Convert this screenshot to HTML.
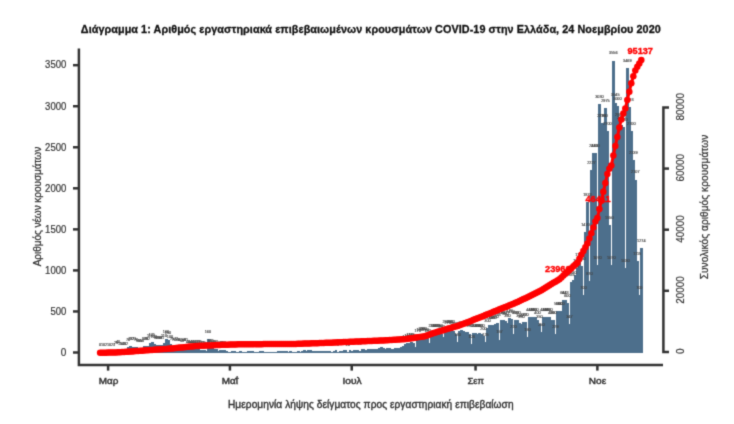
<!DOCTYPE html>
<html><head><meta charset="utf-8"><title>Διάγραμμα 1</title>
<style>html,body{margin:0;padding:0;background:#fff;width:734px;height:424px;overflow:hidden}svg{display:block}</style>
</head><body><svg width="734" height="424" viewBox="0 0 734 424"><defs><filter id="soft" x="0" y="0" width="734" height="424" filterUnits="userSpaceOnUse" color-interpolation-filters="sRGB"><feConvolveMatrix order="3" kernelMatrix="0.025 0.1 0.025 0.1 0.5 0.1 0.025 0.1 0.025" edgeMode="duplicate"/></filter></defs><g filter="url(#soft)"><rect width="734" height="424" fill="#fff"/><g fill="#4d6f8c" shape-rendering="crispEdges"><rect x="100.91" y="352.42" width="2.9" height="0.08"/><rect x="104.90" y="352.34" width="2.9" height="0.16"/><rect x="106.90" y="352.42" width="2.9" height="0.08"/><rect x="110.89" y="352.34" width="2.9" height="0.16"/><rect x="112.89" y="352.25" width="2.9" height="0.25"/><rect x="114.89" y="350.45" width="2.9" height="2.05"/><rect x="116.88" y="349.22" width="2.9" height="3.28"/><rect x="118.88" y="351.27" width="2.9" height="1.23"/><rect x="120.88" y="351.35" width="2.9" height="1.15"/><rect x="122.88" y="351.19" width="2.9" height="1.31"/><rect x="124.87" y="351.51" width="2.9" height="0.99"/><rect x="126.87" y="346.75" width="2.9" height="5.75"/><rect x="128.87" y="346.34" width="2.9" height="6.16"/><rect x="130.86" y="346.59" width="2.9" height="5.91"/><rect x="132.86" y="346.51" width="2.9" height="5.99"/><rect x="134.86" y="346.75" width="2.9" height="5.75"/><rect x="136.86" y="347.74" width="2.9" height="4.76"/><rect x="138.85" y="347.99" width="2.9" height="4.51"/><rect x="140.85" y="347.90" width="2.9" height="4.60"/><rect x="142.85" y="345.93" width="2.9" height="6.57"/><rect x="144.84" y="346.10" width="2.9" height="6.40"/><rect x="146.84" y="345.77" width="2.9" height="6.73"/><rect x="148.84" y="343.06" width="2.9" height="9.44"/><rect x="150.83" y="342.24" width="2.9" height="10.26"/><rect x="152.83" y="344.29" width="2.9" height="8.21"/><rect x="154.83" y="344.95" width="2.9" height="7.55"/><rect x="156.83" y="345.28" width="2.9" height="7.22"/><rect x="158.82" y="345.11" width="2.9" height="7.39"/><rect x="160.82" y="345.03" width="2.9" height="7.47"/><rect x="162.82" y="343.47" width="2.9" height="9.03"/><rect x="164.81" y="339.37" width="2.9" height="13.13"/><rect x="166.81" y="340.19" width="2.9" height="12.31"/><rect x="168.81" y="344.29" width="2.9" height="8.21"/><rect x="170.80" y="346.34" width="2.9" height="6.16"/><rect x="172.80" y="346.75" width="2.9" height="5.75"/><rect x="174.80" y="346.59" width="2.9" height="5.91"/><rect x="176.80" y="347.57" width="2.9" height="4.93"/><rect x="178.79" y="347.41" width="2.9" height="5.09"/><rect x="180.79" y="347.74" width="2.9" height="4.76"/><rect x="182.79" y="347.57" width="2.9" height="4.93"/><rect x="184.78" y="347.49" width="2.9" height="5.01"/><rect x="186.78" y="348.81" width="2.9" height="3.69"/><rect x="188.78" y="348.89" width="2.9" height="3.61"/><rect x="190.77" y="348.72" width="2.9" height="3.78"/><rect x="192.77" y="348.81" width="2.9" height="3.69"/><rect x="194.77" y="349.22" width="2.9" height="3.28"/><rect x="196.77" y="349.38" width="2.9" height="3.12"/><rect x="198.76" y="349.63" width="2.9" height="2.87"/><rect x="200.76" y="350.04" width="2.9" height="2.46"/><rect x="202.76" y="350.45" width="2.9" height="2.05"/><rect x="204.75" y="350.69" width="2.9" height="1.81"/><rect x="206.75" y="339.37" width="2.9" height="13.13"/><rect x="208.75" y="348.40" width="2.9" height="4.10"/><rect x="210.74" y="347.99" width="2.9" height="4.51"/><rect x="212.74" y="348.81" width="2.9" height="3.69"/><rect x="214.74" y="349.22" width="2.9" height="3.28"/><rect x="216.74" y="350.86" width="2.9" height="1.64"/><rect x="218.73" y="350.04" width="2.9" height="2.46"/><rect x="220.73" y="350.45" width="2.9" height="2.05"/><rect x="222.73" y="350.20" width="2.9" height="2.30"/><rect x="224.72" y="350.86" width="2.9" height="1.64"/><rect x="226.72" y="351.68" width="2.9" height="0.82"/><rect x="228.72" y="351.93" width="2.9" height="0.57"/><rect x="230.71" y="351.35" width="2.9" height="1.15"/><rect x="232.71" y="351.02" width="2.9" height="1.48"/><rect x="234.71" y="352.09" width="2.9" height="0.41"/><rect x="236.71" y="352.25" width="2.9" height="0.25"/><rect x="238.70" y="351.02" width="2.9" height="1.48"/><rect x="240.70" y="351.60" width="2.9" height="0.90"/><rect x="242.70" y="351.68" width="2.9" height="0.82"/><rect x="244.69" y="351.76" width="2.9" height="0.74"/><rect x="246.69" y="351.02" width="2.9" height="1.48"/><rect x="248.69" y="351.02" width="2.9" height="1.48"/><rect x="250.68" y="351.27" width="2.9" height="1.23"/><rect x="252.68" y="351.93" width="2.9" height="0.57"/><rect x="254.68" y="351.68" width="2.9" height="0.82"/><rect x="256.68" y="351.93" width="2.9" height="0.57"/><rect x="258.67" y="350.94" width="2.9" height="1.56"/><rect x="260.67" y="351.27" width="2.9" height="1.23"/><rect x="262.67" y="352.25" width="2.9" height="0.25"/><rect x="264.66" y="352.09" width="2.9" height="0.41"/><rect x="266.66" y="351.84" width="2.9" height="0.66"/><rect x="268.66" y="352.17" width="2.9" height="0.33"/><rect x="270.65" y="351.51" width="2.9" height="0.99"/><rect x="272.65" y="352.25" width="2.9" height="0.25"/><rect x="274.65" y="351.60" width="2.9" height="0.90"/><rect x="276.65" y="351.02" width="2.9" height="1.48"/><rect x="278.64" y="351.27" width="2.9" height="1.23"/><rect x="280.64" y="351.19" width="2.9" height="1.31"/><rect x="282.64" y="351.27" width="2.9" height="1.23"/><rect x="284.63" y="351.10" width="2.9" height="1.40"/><rect x="286.63" y="351.93" width="2.9" height="0.57"/><rect x="288.63" y="351.35" width="2.9" height="1.15"/><rect x="290.62" y="351.84" width="2.9" height="0.66"/><rect x="292.62" y="352.01" width="2.9" height="0.49"/><rect x="294.62" y="351.76" width="2.9" height="0.74"/><rect x="296.62" y="350.86" width="2.9" height="1.64"/><rect x="298.61" y="351.60" width="2.9" height="0.90"/><rect x="300.61" y="351.43" width="2.9" height="1.07"/><rect x="302.61" y="350.37" width="2.9" height="2.13"/><rect x="304.60" y="351.02" width="2.9" height="1.48"/><rect x="306.60" y="350.12" width="2.9" height="2.38"/><rect x="308.60" y="350.45" width="2.9" height="2.05"/><rect x="310.59" y="351.35" width="2.9" height="1.15"/><rect x="312.59" y="351.02" width="2.9" height="1.48"/><rect x="314.59" y="350.78" width="2.9" height="1.72"/><rect x="316.58" y="351.10" width="2.9" height="1.40"/><rect x="318.58" y="350.61" width="2.9" height="1.89"/><rect x="320.58" y="351.19" width="2.9" height="1.31"/><rect x="322.58" y="350.69" width="2.9" height="1.81"/><rect x="324.57" y="350.61" width="2.9" height="1.89"/><rect x="326.57" y="351.02" width="2.9" height="1.48"/><rect x="328.57" y="350.61" width="2.9" height="1.89"/><rect x="330.56" y="351.51" width="2.9" height="0.99"/><rect x="332.56" y="351.27" width="2.9" height="1.23"/><rect x="334.56" y="350.37" width="2.9" height="2.13"/><rect x="336.56" y="352.09" width="2.9" height="0.41"/><rect x="338.55" y="351.43" width="2.9" height="1.07"/><rect x="340.55" y="350.53" width="2.9" height="1.97"/><rect x="342.55" y="350.37" width="2.9" height="2.13"/><rect x="344.54" y="350.28" width="2.9" height="2.22"/><rect x="346.54" y="351.68" width="2.9" height="0.82"/><rect x="348.54" y="350.28" width="2.9" height="2.22"/><rect x="350.53" y="350.86" width="2.9" height="1.64"/><rect x="352.53" y="350.12" width="2.9" height="2.38"/><rect x="354.53" y="349.87" width="2.9" height="2.63"/><rect x="356.53" y="349.71" width="2.9" height="2.79"/><rect x="358.52" y="350.78" width="2.9" height="1.72"/><rect x="360.52" y="349.05" width="2.9" height="3.45"/><rect x="362.52" y="349.05" width="2.9" height="3.45"/><rect x="364.51" y="350.04" width="2.9" height="2.46"/><rect x="366.51" y="348.72" width="2.9" height="3.78"/><rect x="368.51" y="348.64" width="2.9" height="3.86"/><rect x="370.50" y="349.30" width="2.9" height="3.20"/><rect x="372.50" y="349.05" width="2.9" height="3.45"/><rect x="374.50" y="349.38" width="2.9" height="3.12"/><rect x="376.50" y="349.30" width="2.9" height="3.20"/><rect x="378.49" y="348.07" width="2.9" height="4.43"/><rect x="380.49" y="347.49" width="2.9" height="5.01"/><rect x="382.49" y="347.74" width="2.9" height="4.76"/><rect x="384.48" y="348.64" width="2.9" height="3.86"/><rect x="386.48" y="347.66" width="2.9" height="4.84"/><rect x="388.48" y="348.23" width="2.9" height="4.27"/><rect x="390.47" y="349.22" width="2.9" height="3.28"/><rect x="392.47" y="348.81" width="2.9" height="3.69"/><rect x="394.47" y="348.40" width="2.9" height="4.10"/><rect x="396.46" y="347.99" width="2.9" height="4.51"/><rect x="398.46" y="347.57" width="2.9" height="4.93"/><rect x="400.46" y="346.75" width="2.9" height="5.75"/><rect x="402.46" y="345.52" width="2.9" height="6.98"/><rect x="404.45" y="344.29" width="2.9" height="8.21"/><rect x="406.45" y="343.47" width="2.9" height="9.03"/><rect x="408.45" y="342.65" width="2.9" height="9.85"/><rect x="410.44" y="342.24" width="2.9" height="10.26"/><rect x="412.44" y="343.06" width="2.9" height="9.44"/><rect x="414.44" y="347.16" width="2.9" height="5.34"/><rect x="416.44" y="338.54" width="2.9" height="13.96"/><rect x="418.43" y="336.90" width="2.9" height="15.60"/><rect x="420.43" y="336.08" width="2.9" height="16.42"/><rect x="422.43" y="336.08" width="2.9" height="16.42"/><rect x="424.42" y="336.90" width="2.9" height="15.60"/><rect x="426.42" y="337.72" width="2.9" height="14.78"/><rect x="428.42" y="343.47" width="2.9" height="9.03"/><rect x="430.41" y="333.62" width="2.9" height="18.88"/><rect x="432.41" y="332.80" width="2.9" height="19.70"/><rect x="434.41" y="332.80" width="2.9" height="19.70"/><rect x="436.41" y="333.21" width="2.9" height="19.29"/><rect x="438.40" y="333.62" width="2.9" height="18.88"/><rect x="440.40" y="334.44" width="2.9" height="18.06"/><rect x="442.40" y="336.90" width="2.9" height="15.60"/><rect x="444.39" y="329.51" width="2.9" height="22.99"/><rect x="446.39" y="330.34" width="2.9" height="22.16"/><rect x="448.39" y="328.69" width="2.9" height="23.81"/><rect x="450.38" y="329.51" width="2.9" height="22.99"/><rect x="452.38" y="331.16" width="2.9" height="21.34"/><rect x="454.38" y="333.62" width="2.9" height="18.88"/><rect x="456.38" y="341.83" width="2.9" height="10.67"/><rect x="458.37" y="331.16" width="2.9" height="21.34"/><rect x="460.37" y="330.34" width="2.9" height="22.16"/><rect x="462.37" y="331.16" width="2.9" height="21.34"/><rect x="464.36" y="331.98" width="2.9" height="20.52"/><rect x="466.36" y="331.98" width="2.9" height="20.52"/><rect x="468.36" y="333.62" width="2.9" height="18.88"/><rect x="470.35" y="344.04" width="2.9" height="8.46"/><rect x="472.35" y="332.80" width="2.9" height="19.70"/><rect x="474.35" y="332.80" width="2.9" height="19.70"/><rect x="476.34" y="333.62" width="2.9" height="18.88"/><rect x="478.34" y="332.80" width="2.9" height="19.70"/><rect x="480.34" y="333.62" width="2.9" height="18.88"/><rect x="482.34" y="336.08" width="2.9" height="16.42"/><rect x="484.33" y="342.24" width="2.9" height="10.26"/><rect x="486.33" y="327.87" width="2.9" height="24.63"/><rect x="488.33" y="325.41" width="2.9" height="27.09"/><rect x="490.32" y="325.41" width="2.9" height="27.09"/><rect x="492.32" y="325.41" width="2.9" height="27.09"/><rect x="494.32" y="323.77" width="2.9" height="28.73"/><rect x="496.31" y="322.54" width="2.9" height="29.96"/><rect x="498.31" y="339.61" width="2.9" height="12.89"/><rect x="500.31" y="320.48" width="2.9" height="32.02"/><rect x="502.31" y="320.48" width="2.9" height="32.02"/><rect x="504.30" y="321.31" width="2.9" height="31.19"/><rect x="506.30" y="322.95" width="2.9" height="29.55"/><rect x="508.30" y="318.02" width="2.9" height="34.48"/><rect x="510.29" y="318.84" width="2.9" height="33.66"/><rect x="512.29" y="334.44" width="2.9" height="18.06"/><rect x="514.29" y="319.66" width="2.9" height="32.84"/><rect x="516.28" y="320.48" width="2.9" height="32.02"/><rect x="518.28" y="322.95" width="2.9" height="29.55"/><rect x="520.28" y="323.77" width="2.9" height="28.73"/><rect x="522.28" y="322.13" width="2.9" height="30.37"/><rect x="524.27" y="322.13" width="2.9" height="30.37"/><rect x="526.27" y="336.90" width="2.9" height="15.60"/><rect x="528.27" y="317.04" width="2.9" height="35.46"/><rect x="530.26" y="317.20" width="2.9" height="35.30"/><rect x="532.26" y="317.20" width="2.9" height="35.30"/><rect x="534.26" y="317.20" width="2.9" height="35.30"/><rect x="536.25" y="319.66" width="2.9" height="32.84"/><rect x="538.25" y="323.77" width="2.9" height="28.73"/><rect x="540.25" y="331.98" width="2.9" height="20.52"/><rect x="542.25" y="317.20" width="2.9" height="35.30"/><rect x="544.24" y="317.20" width="2.9" height="35.30"/><rect x="546.24" y="317.20" width="2.9" height="35.30"/><rect x="548.24" y="317.20" width="2.9" height="35.30"/><rect x="550.23" y="319.66" width="2.9" height="32.84"/><rect x="552.23" y="320.48" width="2.9" height="32.02"/><rect x="554.23" y="333.70" width="2.9" height="18.80"/><rect x="556.23" y="311.45" width="2.9" height="41.05"/><rect x="558.22" y="311.45" width="2.9" height="41.05"/><rect x="560.22" y="311.45" width="2.9" height="41.05"/><rect x="562.22" y="299.72" width="2.9" height="52.78"/><rect x="564.21" y="299.72" width="2.9" height="52.78"/><rect x="566.21" y="303.25" width="2.9" height="49.25"/><rect x="568.21" y="324.01" width="2.9" height="28.49"/><rect x="570.20" y="282.31" width="2.9" height="70.19"/><rect x="572.20" y="280.26" width="2.9" height="72.24"/><rect x="574.20" y="274.51" width="2.9" height="77.99"/><rect x="576.19" y="268.36" width="2.9" height="84.14"/><rect x="578.19" y="262.20" width="2.9" height="90.30"/><rect x="580.19" y="266.31" width="2.9" height="86.19"/><rect x="582.19" y="295.04" width="2.9" height="57.46"/><rect x="584.18" y="231.83" width="2.9" height="120.67"/><rect x="586.18" y="202.03" width="2.9" height="150.47"/><rect x="588.18" y="281.08" width="2.9" height="71.42"/><rect x="590.17" y="169.69" width="2.9" height="182.81"/><rect x="592.17" y="153.02" width="2.9" height="199.48"/><rect x="594.17" y="153.02" width="2.9" height="199.48"/><rect x="596.16" y="264.66" width="2.9" height="87.84"/><rect x="598.16" y="103.77" width="2.9" height="248.73"/><rect x="600.16" y="123.47" width="2.9" height="229.03"/><rect x="602.16" y="123.47" width="2.9" height="229.03"/><rect x="604.15" y="108.28" width="2.9" height="244.22"/><rect x="606.15" y="130.86" width="2.9" height="221.64"/><rect x="608.15" y="225.26" width="2.9" height="127.24"/><rect x="610.14" y="264.66" width="2.9" height="87.84"/><rect x="612.14" y="60.59" width="2.9" height="291.91"/><rect x="614.14" y="102.54" width="2.9" height="249.96"/><rect x="616.13" y="106.23" width="2.9" height="246.27"/><rect x="618.13" y="122.65" width="2.9" height="229.85"/><rect x="620.13" y="125.11" width="2.9" height="227.39"/><rect x="622.13" y="126.75" width="2.9" height="225.75"/><rect x="624.12" y="267.95" width="2.9" height="84.55"/><rect x="626.12" y="67.73" width="2.9" height="284.77"/><rect x="628.12" y="106.80" width="2.9" height="245.70"/><rect x="630.11" y="130.86" width="2.9" height="221.64"/><rect x="632.11" y="160.49" width="2.9" height="192.01"/><rect x="634.11" y="179.54" width="2.9" height="172.96"/><rect x="636.11" y="260.97" width="2.9" height="91.53"/><rect x="638.10" y="295.04" width="2.9" height="57.46"/><rect x="640.10" y="247.92" width="2.9" height="104.58"/></g><g font-family="Liberation Sans, sans-serif" font-size="3.8" fill="#444" stroke="#444" stroke-width="0.15" text-anchor="middle"><text x="100.1" y="346.3">0</text><text x="102.1" y="346.2">1</text><text x="104.1" y="346.3">0</text><text x="106.1" y="346.1">2</text><text x="108.1" y="346.2">1</text><text x="110.1" y="346.3">0</text><text x="112.1" y="346.1">2</text><text x="114.1" y="346.1">3</text><text x="116.1" y="344.2">25</text><text x="118.1" y="343.0">40</text><text x="120.1" y="345.1">15</text><text x="122.1" y="345.2">14</text><text x="124.1" y="345.0">16</text><text x="126.1" y="345.3">12</text><text x="128.1" y="340.6">70</text><text x="130.1" y="340.1">75</text><text x="132.1" y="340.4">72</text><text x="134.1" y="340.3">73</text><text x="136.1" y="340.6">70</text><text x="138.1" y="341.5">58</text><text x="140.1" y="341.8">55</text><text x="142.0" y="341.7">56</text><text x="144.0" y="339.7">80</text><text x="146.0" y="339.9">78</text><text x="148.0" y="339.6">82</text><text x="150.0" y="336.9">115</text><text x="152.0" y="336.0">125</text><text x="154.0" y="338.1">100</text><text x="156.0" y="338.7">92</text><text x="158.0" y="339.1">88</text><text x="160.0" y="338.9">90</text><text x="162.0" y="338.8">91</text><text x="164.0" y="337.3">110</text><text x="166.0" y="333.2">160</text><text x="168.0" y="334.0">150</text><text x="170.0" y="338.1">100</text><text x="172.0" y="340.1">75</text><text x="174.0" y="340.6">70</text><text x="176.0" y="340.4">72</text><text x="178.0" y="341.4">60</text><text x="180.0" y="341.2">62</text><text x="182.0" y="341.5">58</text><text x="184.0" y="341.4">60</text><text x="186.0" y="341.3">61</text><text x="188.0" y="342.6">45</text><text x="190.0" y="342.7">44</text><text x="192.0" y="342.5">46</text><text x="194.0" y="342.6">45</text><text x="196.0" y="343.0">40</text><text x="198.0" y="343.2">38</text><text x="200.0" y="343.4">35</text><text x="202.0" y="343.8">30</text><text x="204.0" y="344.2">25</text><text x="206.0" y="344.5">22</text><text x="207.9" y="333.2">160</text><text x="209.9" y="342.2">50</text><text x="211.9" y="341.8">55</text><text x="213.9" y="342.6">45</text><text x="215.9" y="343.0">40</text><text x="217.9" y="344.7">20</text><text x="219.9" y="343.8">30</text><text x="221.9" y="344.2">25</text><text x="223.9" y="344.0">28</text><text x="225.9" y="344.7">20</text><text x="227.9" y="345.5">10</text><text x="229.9" y="345.7">7</text><text x="231.9" y="345.2">14</text><text x="233.9" y="344.8">18</text><text x="235.9" y="345.9">5</text><text x="237.9" y="346.1">3</text><text x="239.9" y="344.8">18</text><text x="241.9" y="345.4">11</text><text x="243.9" y="345.5">10</text><text x="245.9" y="345.6">9</text><text x="247.9" y="344.8">18</text><text x="249.9" y="344.8">18</text><text x="251.9" y="345.1">15</text><text x="253.9" y="345.7">7</text><text x="255.9" y="345.5">10</text><text x="257.9" y="345.7">7</text><text x="259.9" y="344.7">19</text><text x="261.9" y="345.1">15</text><text x="263.9" y="346.1">3</text><text x="265.9" y="345.9">5</text><text x="267.9" y="345.6">8</text><text x="269.9" y="346.0">4</text><text x="271.9" y="345.3">12</text><text x="273.9" y="346.1">3</text><text x="275.8" y="345.4">11</text><text x="277.8" y="344.8">18</text><text x="279.8" y="345.1">15</text><text x="281.8" y="345.0">16</text><text x="283.8" y="345.1">15</text><text x="285.8" y="344.9">17</text><text x="287.8" y="345.7">7</text><text x="289.8" y="345.2">14</text><text x="291.8" y="345.6">8</text><text x="293.8" y="345.8">6</text><text x="295.8" y="345.6">9</text><text x="297.8" y="344.7">20</text><text x="299.8" y="345.4">11</text><text x="301.8" y="345.2">13</text><text x="303.8" y="344.2">26</text><text x="305.8" y="344.8">18</text><text x="307.8" y="343.9">29</text><text x="309.8" y="344.2">25</text><text x="311.8" y="345.2">14</text><text x="313.8" y="344.8">18</text><text x="315.8" y="344.6">21</text><text x="317.8" y="344.9">17</text><text x="319.8" y="344.4">23</text><text x="321.8" y="345.0">16</text><text x="323.8" y="344.5">22</text><text x="325.8" y="344.4">23</text><text x="327.8" y="344.8">18</text><text x="329.8" y="344.4">23</text><text x="331.8" y="345.3">12</text><text x="333.8" y="345.1">15</text><text x="335.8" y="344.2">26</text><text x="337.8" y="345.9">5</text><text x="339.8" y="345.2">13</text><text x="341.7" y="344.3">24</text><text x="343.7" y="344.2">26</text><text x="345.7" y="344.1">27</text><text x="347.7" y="345.5">10</text><text x="349.7" y="344.1">27</text><text x="351.7" y="344.7">20</text><text x="353.7" y="343.9">29</text><text x="355.7" y="343.7">32</text><text x="357.7" y="343.5">34</text><text x="359.7" y="344.6">21</text><text x="361.7" y="342.9">42</text><text x="363.7" y="342.9">42</text><text x="365.7" y="343.8">30</text><text x="367.7" y="342.5">46</text><text x="369.7" y="342.4">47</text><text x="371.7" y="343.1">39</text><text x="373.7" y="342.9">42</text><text x="375.7" y="343.2">38</text><text x="377.7" y="343.1">39</text><text x="379.7" y="341.9">54</text><text x="381.7" y="341.3">61</text><text x="383.7" y="341.5">58</text><text x="385.7" y="342.4">47</text><text x="387.7" y="341.5">59</text><text x="389.7" y="342.0">52</text><text x="391.7" y="343.0">40</text><text x="393.7" y="342.6">45</text><text x="395.7" y="342.2">50</text><text x="397.7" y="341.8">55</text><text x="399.7" y="341.4">60</text><text x="401.7" y="340.6">70</text><text x="403.7" y="339.3">85</text><text x="405.7" y="338.1">100</text><text x="407.6" y="337.3">110</text><text x="409.6" y="336.4">120</text><text x="411.6" y="336.0">125</text><text x="413.6" y="336.9">115</text><text x="415.6" y="341.0">65</text><text x="417.6" y="332.3">170</text><text x="419.6" y="330.7">190</text><text x="421.6" y="329.9">200</text><text x="423.6" y="329.9">200</text><text x="425.6" y="330.7">190</text><text x="427.6" y="331.5">180</text><text x="429.6" y="337.3">110</text><text x="431.6" y="327.4">230</text><text x="433.6" y="326.6">240</text><text x="435.6" y="326.6">240</text><text x="437.6" y="327.0">235</text><text x="439.6" y="327.4">230</text><text x="441.6" y="328.2">220</text><text x="443.6" y="330.7">190</text><text x="445.6" y="323.3">280</text><text x="447.6" y="324.1">270</text><text x="449.6" y="322.5">290</text><text x="451.6" y="323.3">280</text><text x="453.6" y="325.0">260</text><text x="455.6" y="327.4">230</text><text x="457.6" y="335.6">130</text><text x="459.6" y="325.0">260</text><text x="461.6" y="324.1">270</text><text x="463.6" y="325.0">260</text><text x="465.6" y="325.8">250</text><text x="467.6" y="325.8">250</text><text x="469.6" y="327.4">230</text><text x="471.6" y="337.8">103</text><text x="473.6" y="326.6">240</text><text x="475.5" y="326.6">240</text><text x="477.5" y="327.4">230</text><text x="479.5" y="326.6">240</text><text x="481.5" y="327.4">230</text><text x="483.5" y="329.9">200</text><text x="485.5" y="336.0">125</text><text x="487.5" y="321.7">300</text><text x="489.5" y="319.2">330</text><text x="491.5" y="319.2">330</text><text x="493.5" y="319.2">330</text><text x="495.5" y="317.6">350</text><text x="497.5" y="316.3">365</text><text x="499.5" y="333.4">157</text><text x="501.5" y="314.3">390</text><text x="503.5" y="314.3">390</text><text x="505.5" y="315.1">380</text><text x="507.5" y="316.7">360</text><text x="509.5" y="311.8">420</text><text x="511.5" y="312.6">410</text><text x="513.5" y="328.2">220</text><text x="515.5" y="313.5">400</text><text x="517.5" y="314.3">390</text><text x="519.5" y="316.7">360</text><text x="521.5" y="317.6">350</text><text x="523.5" y="315.9">370</text><text x="525.5" y="315.9">370</text><text x="527.5" y="330.7">190</text><text x="529.5" y="310.8">432</text><text x="531.5" y="311.0">430</text><text x="533.5" y="311.0">430</text><text x="535.5" y="311.0">430</text><text x="537.5" y="313.5">400</text><text x="539.5" y="317.6">350</text><text x="541.4" y="325.8">250</text><text x="543.4" y="311.0">430</text><text x="545.4" y="311.0">430</text><text x="547.4" y="311.0">430</text><text x="549.4" y="311.0">430</text><text x="551.4" y="313.5">400</text><text x="553.4" y="314.3">390</text><text x="555.4" y="327.5">229</text><text x="557.4" y="305.3">500</text><text x="559.4" y="305.3">500</text><text x="561.4" y="305.3">500</text><text x="563.4" y="293.5">643</text><text x="565.4" y="293.5">643</text><text x="567.4" y="297.0">600</text><text x="569.4" y="317.8">347</text><text x="571.4" y="276.1">855</text><text x="573.4" y="274.1">880</text><text x="575.4" y="268.3">950</text><text x="577.4" y="262.2">1025</text><text x="579.4" y="256.0">1100</text><text x="581.4" y="260.1">1050</text><text x="583.4" y="288.8">700</text><text x="585.4" y="225.6">1470</text><text x="587.4" y="195.8">1833</text><text x="589.4" y="274.9">870</text><text x="591.4" y="163.5">2227</text><text x="593.4" y="146.8">2430</text><text x="595.4" y="146.8">2430</text><text x="597.4" y="258.5">1070</text><text x="599.4" y="97.6">3030</text><text x="601.4" y="117.3">2790</text><text x="603.4" y="117.3">2790</text><text x="605.4" y="102.1">2975</text><text x="607.4" y="124.7">2700</text><text x="609.3" y="219.1">1550</text><text x="611.3" y="258.5">1070</text><text x="613.3" y="54.4">3556</text><text x="615.3" y="96.3">3045</text><text x="617.3" y="100.0">3000</text><text x="619.3" y="116.4">2800</text><text x="621.3" y="118.9">2770</text><text x="623.3" y="120.6">2750</text><text x="625.3" y="261.7">1030</text><text x="627.3" y="61.5">3469</text><text x="629.3" y="100.6">2993</text><text x="631.3" y="124.7">2700</text><text x="633.3" y="154.3">2339</text><text x="635.3" y="173.3">2107</text><text x="637.3" y="254.8">1115</text><text x="639.3" y="288.8">700</text><text x="641.3" y="241.7">1274</text></g><g font-family="Liberation Sans, sans-serif" font-weight="bold" font-size="9.2" fill="#ff0000" stroke="#ff0000" stroke-width="0.35" text-anchor="middle"><text x="557.8" y="271.7">23960</text><text x="598" y="202.4">46411</text><text x="640.2" y="53.6">95137</text></g><polyline points="100.11,352.80 102.11,352.75 104.11,352.70 106.10,352.65 108.10,352.59 110.10,352.54 112.09,352.49 114.09,352.44 116.09,352.39 118.08,352.34 120.08,352.26 122.08,352.11 124.08,351.96 126.07,351.82 128.07,351.67 130.07,351.52 132.06,351.38 134.06,351.23 136.06,351.08 138.06,350.94 140.05,350.79 142.05,350.64 144.05,350.50 146.04,350.35 148.04,350.20 150.04,350.06 152.03,349.91 154.03,349.77 156.03,349.62 158.03,349.48 160.02,349.33 162.02,349.18 164.02,349.04 166.01,348.89 168.01,348.75 170.01,348.60 172.00,348.40 174.00,348.20 176.00,348.00 178.00,347.80 179.99,347.60 181.99,347.40 183.99,347.20 185.98,347.00 187.98,346.80 189.98,346.60 191.97,346.40 193.97,346.20 195.97,346.05 197.97,345.96 199.96,345.86 201.96,345.77 203.96,345.67 205.95,345.58 207.95,345.48 209.95,345.39 211.94,345.29 213.94,345.19 215.94,345.10 217.94,345.00 219.93,344.94 221.93,344.87 223.93,344.81 225.92,344.75 227.92,344.68 229.92,344.62 231.91,344.55 233.91,344.49 235.91,344.43 237.91,344.36 239.90,344.30 241.90,344.24 243.90,344.20 245.89,344.19 247.89,344.18 249.89,344.17 251.88,344.17 253.88,344.16 255.88,344.15 257.88,344.14 259.87,344.14 261.87,344.13 263.87,344.12 265.86,344.12 267.86,344.11 269.86,344.10 271.85,344.09 273.85,344.08 275.85,344.07 277.85,344.07 279.84,344.06 281.84,344.05 283.84,344.04 285.83,344.03 287.83,344.02 289.83,344.01 291.82,344.01 293.82,343.97 295.82,343.90 297.81,343.83 299.81,343.76 301.81,343.69 303.81,343.62 305.80,343.55 307.80,343.48 309.80,343.41 311.79,343.34 313.79,343.27 315.79,343.20 317.78,343.13 319.78,343.06 321.78,342.99 323.78,342.92 325.77,342.85 327.77,342.78 329.77,342.71 331.76,342.63 333.76,342.54 335.76,342.46 337.75,342.37 339.75,342.29 341.75,342.21 343.75,342.12 345.74,342.04 347.74,341.95 349.74,341.87 351.73,341.78 353.73,341.70 355.73,341.62 357.73,341.53 359.72,341.45 361.72,341.36 363.72,341.28 365.71,341.20 367.71,341.11 369.71,341.03 371.70,340.95 373.70,340.86 375.70,340.78 377.70,340.70 379.69,340.61 381.69,340.50 383.69,340.38 385.68,340.26 387.68,340.14 389.68,340.02 391.67,339.90 393.67,339.78 395.67,339.66 397.66,339.53 399.66,339.41 401.66,339.28 403.66,339.16 405.65,339.03 407.65,338.78 409.65,338.49 411.64,338.19 413.64,337.89 415.64,337.59 417.63,337.30 419.63,337.00 421.63,336.70 423.63,336.40 425.62,335.98 427.62,335.26 429.62,334.54 431.61,333.82 433.61,333.10 435.61,332.42 437.61,331.83 439.60,331.24 441.60,330.65 443.60,330.06 445.59,329.46 447.59,328.87 449.59,328.28 451.58,327.69 453.58,327.10 455.58,326.51 457.58,325.92 459.57,325.33 461.57,324.58 463.57,323.80 465.56,323.01 467.56,322.23 469.56,321.44 471.55,320.66 473.55,319.87 475.55,319.08 477.54,318.28 479.54,317.48 481.54,316.68 483.54,315.89 485.53,315.09 487.53,314.29 489.53,313.49 491.52,312.66 493.52,311.82 495.52,310.99 497.51,310.18 499.51,309.37 501.51,308.56 503.51,307.76 505.50,306.95 507.50,306.14 509.50,305.33 511.49,304.52 513.49,303.71 515.49,302.87 517.49,301.91 519.48,300.95 521.48,300.00 523.48,299.07 525.47,298.13 527.47,297.19 529.47,296.25 531.46,295.27 533.46,294.27 535.46,293.27 537.46,292.27 539.45,291.27 541.45,290.13 543.45,288.93 545.44,287.73 547.44,286.54 549.44,285.34 551.43,284.11 553.43,282.87 555.43,281.63 557.43,280.40 559.42,279.16 561.42,277.48 563.42,275.62 565.41,273.77 567.41,271.91 569.41,270.05 571.40,268.21 573.40,266.37 575.40,264.54 577.39,262.70 579.39,258.72 581.39,254.72 583.39,250.93 585.38,247.25 587.38,243.45 589.38,238.46 591.37,233.30 593.37,227.45 595.37,221.59 597.37,217.96 599.36,209.07 601.36,200.67 603.36,191.80 605.35,182.91 607.35,174.12 609.35,168.74 611.34,165.38 613.34,155.41 615.34,146.03 617.34,136.93 619.33,127.47 621.33,119.41 623.33,113.44 625.32,108.60 627.32,99.92 629.32,91.73 631.31,83.25 633.31,76.27 635.31,70.39 637.31,66.79 639.30,63.60 641.30,60.10" fill="none" stroke="#ff0000" stroke-width="3" stroke-linejoin="round" stroke-linecap="round"/><g fill="#ff0000"><circle cx="100.11" cy="352.80" r="3.25"/><circle cx="102.11" cy="352.75" r="3.25"/><circle cx="104.11" cy="352.70" r="3.25"/><circle cx="106.10" cy="352.65" r="3.25"/><circle cx="108.10" cy="352.59" r="3.25"/><circle cx="110.10" cy="352.54" r="3.25"/><circle cx="112.09" cy="352.49" r="3.25"/><circle cx="114.09" cy="352.44" r="3.25"/><circle cx="116.09" cy="352.39" r="3.25"/><circle cx="118.08" cy="352.34" r="3.25"/><circle cx="120.08" cy="352.26" r="3.25"/><circle cx="122.08" cy="352.11" r="3.25"/><circle cx="124.08" cy="351.96" r="3.25"/><circle cx="126.07" cy="351.82" r="3.25"/><circle cx="128.07" cy="351.67" r="3.25"/><circle cx="130.07" cy="351.52" r="3.25"/><circle cx="132.06" cy="351.38" r="3.25"/><circle cx="134.06" cy="351.23" r="3.25"/><circle cx="136.06" cy="351.08" r="3.25"/><circle cx="138.06" cy="350.94" r="3.25"/><circle cx="140.05" cy="350.79" r="3.25"/><circle cx="142.05" cy="350.64" r="3.25"/><circle cx="144.05" cy="350.50" r="3.25"/><circle cx="146.04" cy="350.35" r="3.25"/><circle cx="148.04" cy="350.20" r="3.25"/><circle cx="150.04" cy="350.06" r="3.25"/><circle cx="152.03" cy="349.91" r="3.25"/><circle cx="154.03" cy="349.77" r="3.25"/><circle cx="156.03" cy="349.62" r="3.25"/><circle cx="158.03" cy="349.48" r="3.25"/><circle cx="160.02" cy="349.33" r="3.25"/><circle cx="162.02" cy="349.18" r="3.25"/><circle cx="164.02" cy="349.04" r="3.25"/><circle cx="166.01" cy="348.89" r="3.25"/><circle cx="168.01" cy="348.75" r="3.25"/><circle cx="170.01" cy="348.60" r="3.25"/><circle cx="172.00" cy="348.40" r="3.25"/><circle cx="174.00" cy="348.20" r="3.25"/><circle cx="176.00" cy="348.00" r="3.25"/><circle cx="178.00" cy="347.80" r="3.25"/><circle cx="179.99" cy="347.60" r="3.25"/><circle cx="181.99" cy="347.40" r="3.25"/><circle cx="183.99" cy="347.20" r="3.25"/><circle cx="185.98" cy="347.00" r="3.25"/><circle cx="187.98" cy="346.80" r="3.25"/><circle cx="189.98" cy="346.60" r="3.25"/><circle cx="191.97" cy="346.40" r="3.25"/><circle cx="193.97" cy="346.20" r="3.25"/><circle cx="195.97" cy="346.05" r="3.25"/><circle cx="197.97" cy="345.96" r="3.25"/><circle cx="199.96" cy="345.86" r="3.25"/><circle cx="201.96" cy="345.77" r="3.25"/><circle cx="203.96" cy="345.67" r="3.25"/><circle cx="205.95" cy="345.58" r="3.25"/><circle cx="207.95" cy="345.48" r="3.25"/><circle cx="209.95" cy="345.39" r="3.25"/><circle cx="211.94" cy="345.29" r="3.25"/><circle cx="213.94" cy="345.19" r="3.25"/><circle cx="215.94" cy="345.10" r="3.25"/><circle cx="217.94" cy="345.00" r="3.25"/><circle cx="219.93" cy="344.94" r="3.25"/><circle cx="221.93" cy="344.87" r="3.25"/><circle cx="223.93" cy="344.81" r="3.25"/><circle cx="225.92" cy="344.75" r="3.25"/><circle cx="227.92" cy="344.68" r="3.25"/><circle cx="229.92" cy="344.62" r="3.25"/><circle cx="231.91" cy="344.55" r="3.25"/><circle cx="233.91" cy="344.49" r="3.25"/><circle cx="235.91" cy="344.43" r="3.25"/><circle cx="237.91" cy="344.36" r="3.25"/><circle cx="239.90" cy="344.30" r="3.25"/><circle cx="241.90" cy="344.24" r="3.25"/><circle cx="243.90" cy="344.20" r="3.25"/><circle cx="245.89" cy="344.19" r="3.25"/><circle cx="247.89" cy="344.18" r="3.25"/><circle cx="249.89" cy="344.17" r="3.25"/><circle cx="251.88" cy="344.17" r="3.25"/><circle cx="253.88" cy="344.16" r="3.25"/><circle cx="255.88" cy="344.15" r="3.25"/><circle cx="257.88" cy="344.14" r="3.25"/><circle cx="259.87" cy="344.14" r="3.25"/><circle cx="261.87" cy="344.13" r="3.25"/><circle cx="263.87" cy="344.12" r="3.25"/><circle cx="265.86" cy="344.12" r="3.25"/><circle cx="267.86" cy="344.11" r="3.25"/><circle cx="269.86" cy="344.10" r="3.25"/><circle cx="271.85" cy="344.09" r="3.25"/><circle cx="273.85" cy="344.08" r="3.25"/><circle cx="275.85" cy="344.07" r="3.25"/><circle cx="277.85" cy="344.07" r="3.25"/><circle cx="279.84" cy="344.06" r="3.25"/><circle cx="281.84" cy="344.05" r="3.25"/><circle cx="283.84" cy="344.04" r="3.25"/><circle cx="285.83" cy="344.03" r="3.25"/><circle cx="287.83" cy="344.02" r="3.25"/><circle cx="289.83" cy="344.01" r="3.25"/><circle cx="291.82" cy="344.01" r="3.25"/><circle cx="293.82" cy="343.97" r="3.25"/><circle cx="295.82" cy="343.90" r="3.25"/><circle cx="297.81" cy="343.83" r="3.25"/><circle cx="299.81" cy="343.76" r="3.25"/><circle cx="301.81" cy="343.69" r="3.25"/><circle cx="303.81" cy="343.62" r="3.25"/><circle cx="305.80" cy="343.55" r="3.25"/><circle cx="307.80" cy="343.48" r="3.25"/><circle cx="309.80" cy="343.41" r="3.25"/><circle cx="311.79" cy="343.34" r="3.25"/><circle cx="313.79" cy="343.27" r="3.25"/><circle cx="315.79" cy="343.20" r="3.25"/><circle cx="317.78" cy="343.13" r="3.25"/><circle cx="319.78" cy="343.06" r="3.25"/><circle cx="321.78" cy="342.99" r="3.25"/><circle cx="323.78" cy="342.92" r="3.25"/><circle cx="325.77" cy="342.85" r="3.25"/><circle cx="327.77" cy="342.78" r="3.25"/><circle cx="329.77" cy="342.71" r="3.25"/><circle cx="331.76" cy="342.63" r="3.25"/><circle cx="333.76" cy="342.54" r="3.25"/><circle cx="335.76" cy="342.46" r="3.25"/><circle cx="337.75" cy="342.37" r="3.25"/><circle cx="339.75" cy="342.29" r="3.25"/><circle cx="341.75" cy="342.21" r="3.25"/><circle cx="343.75" cy="342.12" r="3.25"/><circle cx="345.74" cy="342.04" r="3.25"/><circle cx="347.74" cy="341.95" r="3.25"/><circle cx="349.74" cy="341.87" r="3.25"/><circle cx="351.73" cy="341.78" r="3.25"/><circle cx="353.73" cy="341.70" r="3.25"/><circle cx="355.73" cy="341.62" r="3.25"/><circle cx="357.73" cy="341.53" r="3.25"/><circle cx="359.72" cy="341.45" r="3.25"/><circle cx="361.72" cy="341.36" r="3.25"/><circle cx="363.72" cy="341.28" r="3.25"/><circle cx="365.71" cy="341.20" r="3.25"/><circle cx="367.71" cy="341.11" r="3.25"/><circle cx="369.71" cy="341.03" r="3.25"/><circle cx="371.70" cy="340.95" r="3.25"/><circle cx="373.70" cy="340.86" r="3.25"/><circle cx="375.70" cy="340.78" r="3.25"/><circle cx="377.70" cy="340.70" r="3.25"/><circle cx="379.69" cy="340.61" r="3.25"/><circle cx="381.69" cy="340.50" r="3.25"/><circle cx="383.69" cy="340.38" r="3.25"/><circle cx="385.68" cy="340.26" r="3.25"/><circle cx="387.68" cy="340.14" r="3.25"/><circle cx="389.68" cy="340.02" r="3.25"/><circle cx="391.67" cy="339.90" r="3.25"/><circle cx="393.67" cy="339.78" r="3.25"/><circle cx="395.67" cy="339.66" r="3.25"/><circle cx="397.66" cy="339.53" r="3.25"/><circle cx="399.66" cy="339.41" r="3.25"/><circle cx="401.66" cy="339.28" r="3.25"/><circle cx="403.66" cy="339.16" r="3.25"/><circle cx="405.65" cy="339.03" r="3.25"/><circle cx="407.65" cy="338.78" r="3.25"/><circle cx="409.65" cy="338.49" r="3.25"/><circle cx="411.64" cy="338.19" r="3.25"/><circle cx="413.64" cy="337.89" r="3.25"/><circle cx="415.64" cy="337.59" r="3.25"/><circle cx="417.63" cy="337.30" r="3.25"/><circle cx="419.63" cy="337.00" r="3.25"/><circle cx="421.63" cy="336.70" r="3.25"/><circle cx="423.63" cy="336.40" r="3.25"/><circle cx="425.62" cy="335.98" r="3.25"/><circle cx="427.62" cy="335.26" r="3.25"/><circle cx="429.62" cy="334.54" r="3.25"/><circle cx="431.61" cy="333.82" r="3.25"/><circle cx="433.61" cy="333.10" r="3.25"/><circle cx="435.61" cy="332.42" r="3.25"/><circle cx="437.61" cy="331.83" r="3.25"/><circle cx="439.60" cy="331.24" r="3.25"/><circle cx="441.60" cy="330.65" r="3.25"/><circle cx="443.60" cy="330.06" r="3.25"/><circle cx="445.59" cy="329.46" r="3.25"/><circle cx="447.59" cy="328.87" r="3.25"/><circle cx="449.59" cy="328.28" r="3.25"/><circle cx="451.58" cy="327.69" r="3.25"/><circle cx="453.58" cy="327.10" r="3.25"/><circle cx="455.58" cy="326.51" r="3.25"/><circle cx="457.58" cy="325.92" r="3.25"/><circle cx="459.57" cy="325.33" r="3.25"/><circle cx="461.57" cy="324.58" r="3.25"/><circle cx="463.57" cy="323.80" r="3.25"/><circle cx="465.56" cy="323.01" r="3.25"/><circle cx="467.56" cy="322.23" r="3.25"/><circle cx="469.56" cy="321.44" r="3.25"/><circle cx="471.55" cy="320.66" r="3.25"/><circle cx="473.55" cy="319.87" r="3.25"/><circle cx="475.55" cy="319.08" r="3.25"/><circle cx="477.54" cy="318.28" r="3.25"/><circle cx="479.54" cy="317.48" r="3.25"/><circle cx="481.54" cy="316.68" r="3.25"/><circle cx="483.54" cy="315.89" r="3.25"/><circle cx="485.53" cy="315.09" r="3.25"/><circle cx="487.53" cy="314.29" r="3.25"/><circle cx="489.53" cy="313.49" r="3.25"/><circle cx="491.52" cy="312.66" r="3.25"/><circle cx="493.52" cy="311.82" r="3.25"/><circle cx="495.52" cy="310.99" r="3.25"/><circle cx="497.51" cy="310.18" r="3.25"/><circle cx="499.51" cy="309.37" r="3.25"/><circle cx="501.51" cy="308.56" r="3.25"/><circle cx="503.51" cy="307.76" r="3.25"/><circle cx="505.50" cy="306.95" r="3.25"/><circle cx="507.50" cy="306.14" r="3.25"/><circle cx="509.50" cy="305.33" r="3.25"/><circle cx="511.49" cy="304.52" r="3.25"/><circle cx="513.49" cy="303.71" r="3.25"/><circle cx="515.49" cy="302.87" r="3.25"/><circle cx="517.49" cy="301.91" r="3.25"/><circle cx="519.48" cy="300.95" r="3.25"/><circle cx="521.48" cy="300.00" r="3.25"/><circle cx="523.48" cy="299.07" r="3.25"/><circle cx="525.47" cy="298.13" r="3.25"/><circle cx="527.47" cy="297.19" r="3.25"/><circle cx="529.47" cy="296.25" r="3.25"/><circle cx="531.46" cy="295.27" r="3.25"/><circle cx="533.46" cy="294.27" r="3.25"/><circle cx="535.46" cy="293.27" r="3.25"/><circle cx="537.46" cy="292.27" r="3.25"/><circle cx="539.45" cy="291.27" r="3.25"/><circle cx="541.45" cy="290.13" r="3.25"/><circle cx="543.45" cy="288.93" r="3.25"/><circle cx="545.44" cy="287.73" r="3.25"/><circle cx="547.44" cy="286.54" r="3.25"/><circle cx="549.44" cy="285.34" r="3.25"/><circle cx="551.43" cy="284.11" r="3.25"/><circle cx="553.43" cy="282.87" r="3.25"/><circle cx="555.43" cy="281.63" r="3.25"/><circle cx="557.43" cy="280.40" r="3.25"/><circle cx="559.42" cy="279.16" r="3.25"/><circle cx="561.42" cy="277.48" r="3.25"/><circle cx="563.42" cy="275.62" r="3.25"/><circle cx="565.41" cy="273.77" r="3.25"/><circle cx="567.41" cy="271.91" r="3.25"/><circle cx="569.41" cy="270.05" r="3.25"/><circle cx="571.40" cy="268.21" r="3.25"/><circle cx="573.40" cy="266.37" r="3.25"/><circle cx="575.40" cy="264.54" r="3.25"/><circle cx="577.39" cy="262.70" r="3.25"/><circle cx="579.39" cy="258.72" r="3.25"/><circle cx="581.39" cy="254.72" r="3.25"/><circle cx="583.39" cy="250.93" r="3.25"/><circle cx="585.38" cy="247.25" r="3.25"/><circle cx="587.38" cy="243.45" r="3.25"/><circle cx="589.38" cy="238.46" r="3.25"/><circle cx="591.37" cy="233.30" r="3.25"/><circle cx="593.37" cy="227.45" r="3.25"/><circle cx="595.37" cy="221.59" r="3.25"/><circle cx="597.37" cy="217.96" r="3.25"/><circle cx="599.36" cy="209.07" r="3.25"/><circle cx="601.36" cy="200.67" r="3.25"/><circle cx="603.36" cy="191.80" r="3.25"/><circle cx="605.35" cy="182.91" r="3.25"/><circle cx="607.35" cy="174.12" r="3.25"/><circle cx="609.35" cy="168.74" r="3.25"/><circle cx="611.34" cy="165.38" r="3.25"/><circle cx="613.34" cy="155.41" r="3.25"/><circle cx="615.34" cy="146.03" r="3.25"/><circle cx="617.34" cy="136.93" r="3.25"/><circle cx="619.33" cy="127.47" r="3.25"/><circle cx="621.33" cy="119.41" r="3.25"/><circle cx="623.33" cy="113.44" r="3.25"/><circle cx="625.32" cy="108.60" r="3.25"/><circle cx="627.32" cy="99.92" r="3.25"/><circle cx="629.32" cy="91.73" r="3.25"/><circle cx="631.31" cy="83.25" r="3.25"/><circle cx="633.31" cy="76.27" r="3.25"/><circle cx="635.31" cy="70.39" r="3.25"/><circle cx="637.31" cy="66.79" r="3.25"/><circle cx="639.30" cy="63.60" r="3.25"/><circle cx="641.30" cy="60.10" r="3.25"/></g><g stroke="#333" stroke-width="2.5" fill="none"><path d="M78.9,48.5 V365.0 H663"/><path d="M73,352.50 H78.9"/><path d="M73,311.45 H78.9"/><path d="M73,270.41 H78.9"/><path d="M73,229.37 H78.9"/><path d="M73,188.32 H78.9"/><path d="M73,147.28 H78.9"/><path d="M73,106.23 H78.9"/><path d="M73,65.19 H78.9"/><path d="M108.10,365.0 V370.6"/><path d="M229.92,365.0 V370.6"/><path d="M351.73,365.0 V370.6"/><path d="M475.55,365.0 V370.6"/><path d="M597.37,365.0 V370.6"/><path d="M669,107.5 H663.4 V351.9 H669"/><path d="M663.4,290.79 H669"/><path d="M663.4,229.69 H669"/><path d="M663.4,168.58 H669"/></g><g font-family="Liberation Sans, sans-serif" font-size="10" fill="#333" stroke="#333" stroke-width="0.2" text-anchor="end"><text x="66.3" y="355.80">0</text><text x="66.3" y="314.75" textLength="15.9" lengthAdjust="spacingAndGlyphs">500</text><text x="66.3" y="273.71" textLength="21.2" lengthAdjust="spacingAndGlyphs">1000</text><text x="66.3" y="232.67" textLength="21.2" lengthAdjust="spacingAndGlyphs">1500</text><text x="66.3" y="191.62" textLength="21.2" lengthAdjust="spacingAndGlyphs">2000</text><text x="66.3" y="150.58" textLength="21.2" lengthAdjust="spacingAndGlyphs">2500</text><text x="66.3" y="109.53" textLength="21.2" lengthAdjust="spacingAndGlyphs">3000</text><text x="66.3" y="68.48" textLength="21.2" lengthAdjust="spacingAndGlyphs">3500</text></g><g font-family="Liberation Sans, sans-serif" font-size="10" fill="#333" stroke="#333" stroke-width="0.2" text-anchor="middle"><text transform="translate(683.8,351.10) rotate(-90)" x="0" y="0">0</text><text transform="translate(683.8,289.99) rotate(-90)" x="0" y="0" textLength="27.5" lengthAdjust="spacingAndGlyphs">20000</text><text transform="translate(683.8,228.89) rotate(-90)" x="0" y="0" textLength="27.5" lengthAdjust="spacingAndGlyphs">40000</text><text transform="translate(683.8,167.78) rotate(-90)" x="0" y="0" textLength="27.5" lengthAdjust="spacingAndGlyphs">60000</text><text transform="translate(683.8,106.68) rotate(-90)" x="0" y="0" textLength="27.5" lengthAdjust="spacingAndGlyphs">80000</text></g><g font-family="Liberation Sans, sans-serif" font-size="9.5" fill="#333" stroke="#333" stroke-width="0.45" text-anchor="middle"><text x="108.50" y="384.4" textLength="19.6" lengthAdjust="spacingAndGlyphs">Μαρ</text><text x="229.90" y="384.4" textLength="16.2" lengthAdjust="spacingAndGlyphs">Μαΐ</text><text x="352.00" y="384.4" textLength="19.2" lengthAdjust="spacingAndGlyphs">Ιουλ</text><text x="475.70" y="384.4" textLength="16.4" lengthAdjust="spacingAndGlyphs">Σεπ</text><text x="597.50" y="384.4" textLength="17.3" lengthAdjust="spacingAndGlyphs">Νοε</text></g><text x="228" y="407.5" font-family="Liberation Sans, sans-serif" font-size="10.1" fill="#333" stroke="#333" stroke-width="0.4" textLength="285.5">Ημερομηνία λήψης δείγματος προς εργαστηριακή επιβεβαίωση</text><text transform="translate(41,266.3) rotate(-90)" font-family="Liberation Sans, sans-serif" font-size="10.1" fill="#333" stroke="#333" stroke-width="0.25" textLength="119.5">Αριθμός νέων κρουσμάτων</text><text transform="translate(707.5,279.3) rotate(-90)" font-family="Liberation Sans, sans-serif" font-size="10.1" fill="#333" stroke="#333" stroke-width="0.25" textLength="144.5">Συνολικός αριθμός κρουσμάτων</text><text x="80.8" y="33.3" font-family="Liberation Sans, sans-serif" font-weight="bold" font-size="10.8" fill="#111" stroke="#111" stroke-width="0.3" textLength="580">Διάγραμμα 1: Αριθμός εργαστηριακά επιβεβαιωμένων κρουσμάτων COVID-19 στην Ελλάδα, 24 Νοεμβρίου 2020</text></g></svg></body></html>
